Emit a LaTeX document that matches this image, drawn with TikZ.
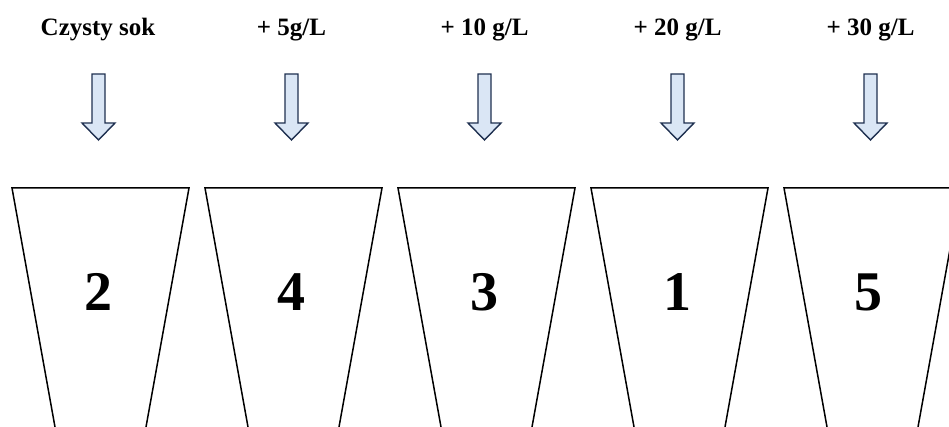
\documentclass[tikz,border=0pt]{standalone}
\usepackage{fontspec}
\setmainfont{Liberation Serif}
\definecolor{arrfill}{HTML}{DAE6F5}
\definecolor{arrline}{HTML}{1F3050}
\tikzset{
  cupbox/.style={draw=black,line width=1.5pt},
  downarrow/.style={draw=arrline,fill=arrfill,line width=1.4pt,line join=miter},
  lab/.style={font=\bfseries\fontsize{25}{28}\selectfont,inner sep=0pt},
  num/.style={font=\bfseries\fontsize{56}{60}\selectfont,inner sep=0pt}
}
\begin{document}
\begin{tikzpicture}[x=1pt,y=-1pt]
\useasboundingbox (0,0) rectangle (949,427);
\clip (0,0) rectangle (949,427);
\foreach \cx [count=\k] in {100.5,293.5,486.5,679.5,872.5}{
  \draw[cupbox] ({\cx-88.5+43*1.3},{188+239*1.3}) -- ({\cx-88.5},188) -- ({\cx+88.5},188) -- ({\cx+88.5-43*1.3},{188+239*1.3});
  \draw[downarrow] ({\cx-2-6.5},74) -- ({\cx-2+6.5},74) -- ({\cx-2+6.5},123) -- ({\cx-2+16.5},123)
     -- ({\cx-2},140) -- ({\cx-2-16.5},123) -- ({\cx-2-6.5},123) -- cycle;
}
\node[lab] (l1) at (98,30) {Czysty sok};
\node[lab] (l2) at (291.5,30) {+ 5g/L};
\node[lab] (l3) at (484.5,30) {+ 10 g/L};
\node[lab] (l4) at (677.5,30) {+ 20 g/L};
\node[lab] (l5) at (870.5,30) {+ 30 g/L};
\node[num] (n1) at (98.5,292) {2};
\node[num] (n2) at (291.5,292) {4};
\node[num] (n3) at (484.5,292) {3};
\node[num] (n4) at (677.5,292) {1};
\node[num] (n5) at (868.5,292) {5};
\end{tikzpicture}
\end{document}
